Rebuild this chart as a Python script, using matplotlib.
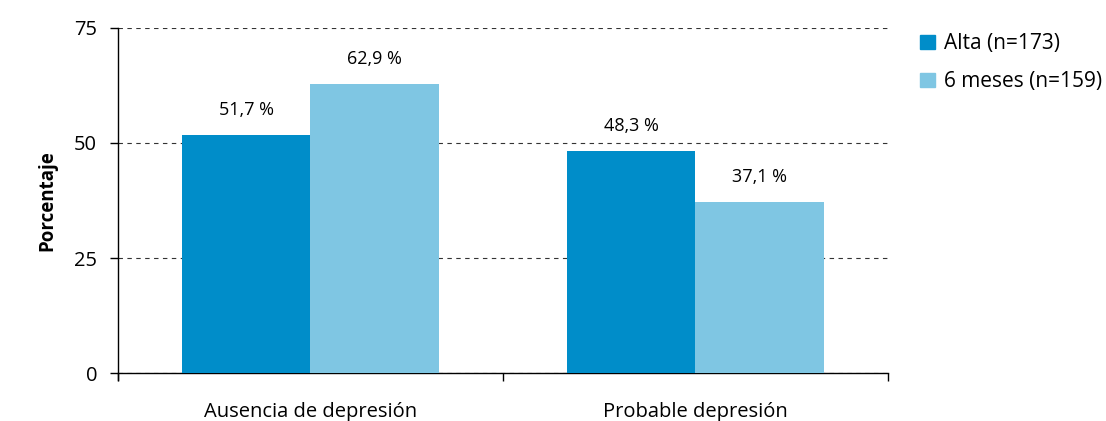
import numpy as np
from matplotlib import pyplot as plt
from matplotlib.patches import Patch

plt.rcParams['font.family'] = ['Open Sans', 'DejaVu Sans']

categorias = ["Ausencia de depresión", "Probable depresión"]
series = ["Alta (n=173)", "6 meses (n=159)"]
alta = [51.7, 48.3]
seis_meses = [62.9, 37.1]
colores = ["#008dc9", "#7fc6e3"]

fig = plt.figure(figsize=(11.06, 4.21), dpi=100)
ax = fig.add_axes([0.1067, 0.114, 0.696, 0.8195])

x = np.arange(len(categorias))
w = 1 / 3
for i, (vals, color) in enumerate(zip([alta, seis_meses], colores)):
    pos = x + (i - 0.5) * w
    ax.bar(pos, vals, width=w, color=color, zorder=3)
    for p, v in zip(pos, vals):
        ax.text(p, v + 3.5, f"{v:.1f} %".replace(".", ","),
                ha="center", va="bottom", fontsize=13)

ax.set_xlim(-0.5, 1.5)
ax.set_ylim(0, 75)
ax.set_yticks([0, 25, 50, 75])
ax.tick_params(axis="y", labelsize=14.5, length=6, width=1, pad=9)
ax.set_xticks([-0.5, 0.5, 1.5])
ax.set_xticklabels([])
ax.tick_params(axis="x", length=6, width=1)
for xi, c in zip(x, categorias):
    ax.text(xi, -6.3, c, ha="center", va="top", fontsize=14.5)

ax.grid(axis="y", linestyle=(0, (4, 4)), color="#333333", linewidth=0.8, zorder=0)
for s in ["top", "right"]:
    ax.spines[s].set_visible(False)
ax.spines["left"].set_linewidth(1)
ax.spines["bottom"].set_linewidth(1)
ax.spines["left"].set_bounds(-1.5, 75)
ax.set_ylabel("Porcentaje", fontsize=13.5, fontweight="bold", labelpad=12)

handles = [Patch(color=c) for c in colores]
fig.legend(handles, series, loc="upper left", bbox_to_anchor=(0.815, 0.965),
           frameon=False, fontsize=15, handlelength=0.7, handleheight=0.7,
           handletextpad=0.45, labelspacing=0.8)

fig.savefig("out.png", dpi=100)
